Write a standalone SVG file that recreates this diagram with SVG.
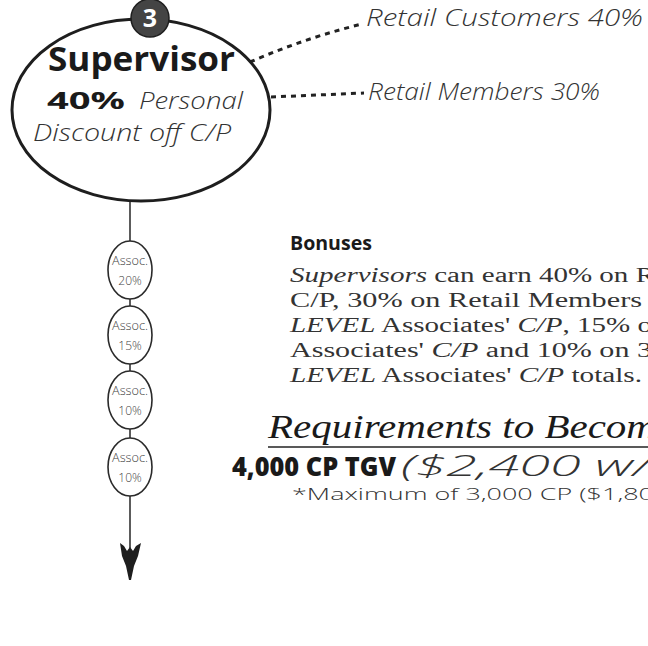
<svg xmlns="http://www.w3.org/2000/svg" width="648" height="646" viewBox="0 0 648 646">
  <defs>
    <style>
      .sans { font-family: "Open Sans", "Liberation Sans", sans-serif; }
      .serif { font-family: "Liberation Serif", "DejaVu Serif", serif; }
      .title { font-weight: 700; font-size: 34px; fill: #1a1a1a; }
      .light-it { font-style: italic; font-weight: 300; fill: #333; }
      .body { font-size: 20px; fill: #333; }
      .assoc-node { fill: #fff; stroke: #2a2a2a; stroke-width: 1.6; }
      .assoc-text { font-family: "Open Sans", "Liberation Sans", sans-serif; font-weight: 300; font-size: 12px; fill: #444; text-anchor: middle; }
      .dash { fill: none; stroke: #222; stroke-width: 3; stroke-dasharray: 5 5; }
      .link { stroke: #333; stroke-width: 1.6; fill: none; }
    </style>
  </defs>

  <rect width="648" height="646" fill="#fff"/>

  <!-- connectors -->
  <g id="connectors">
    <path class="dash" d="M250 62 Q305 38 362 24"/>
    <path class="dash" d="M271 97 L364 93"/>
    <line class="link" x1="130" y1="201" x2="130" y2="242"/>
    <line class="link" x1="130" y1="299" x2="130" y2="307"/>
    <line class="link" x1="130" y1="364" x2="130" y2="371"/>
    <line class="link" x1="130" y1="429" x2="130" y2="438"/>
    <line class="link" x1="130" y1="496" x2="130" y2="548"/>
    <!-- feathered arrowhead -->
    <path d="M120 543 L124 546 L127 551 L130 547 L133 551 L136 546 L141 543 L138 556 L134 566 L131 580 L129 580 L126 566 L122 556 Z" fill="#1e1e1e"/>
  </g>

  <!-- top-level node -->
  <g id="supervisor">
    <ellipse cx="141" cy="110" rx="129" ry="91" fill="#fff" stroke="#1e1e1e" stroke-width="3"/>
    <text class="sans title" x="48" y="71" textLength="187" lengthAdjust="spacingAndGlyphs">Supervisor</text>
    <text class="sans" x="47" y="109" font-size="24" font-weight="700" fill="#1a1a1a" textLength="78" lengthAdjust="spacingAndGlyphs">40%</text>
    <text class="sans light-it" x="139" y="109" font-size="23" textLength="104" lengthAdjust="spacingAndGlyphs">Personal</text>
    <text class="sans light-it" x="33" y="141" font-size="23" textLength="198" lengthAdjust="spacingAndGlyphs">Discount off C/P</text>
  </g>

  <g id="level-badge">
    <circle cx="150" cy="18" r="19" fill="#444" stroke="#1e1e1e" stroke-width="1.5"/>
    <text class="sans" x="150" y="27" text-anchor="middle" font-size="25" font-weight="700" fill="#fff">3</text>
  </g>

  <g id="retail-customers">
    <text class="sans light-it" x="366" y="26" font-size="23" fill="#444" textLength="277" lengthAdjust="spacingAndGlyphs">Retail Customers 40%</text>
  </g>
  <g id="retail-members">
    <text class="sans light-it" x="368" y="100" font-size="23" fill="#444" textLength="232" lengthAdjust="spacingAndGlyphs">Retail Members 30%</text>
  </g>

  <!-- associate chain -->
  <g id="assoc-1">
    <ellipse class="assoc-node" cx="130" cy="270" rx="22" ry="29"/>
    <text class="assoc-text" x="130" y="265" textLength="36" lengthAdjust="spacingAndGlyphs">Assoc.</text>
    <text class="assoc-text" x="130" y="285">20%</text>
  </g>
  <g id="assoc-2">
    <ellipse class="assoc-node" cx="130" cy="335" rx="22" ry="29"/>
    <text class="assoc-text" x="130" y="330" textLength="36" lengthAdjust="spacingAndGlyphs">Assoc.</text>
    <text class="assoc-text" x="130" y="350">15%</text>
  </g>
  <g id="assoc-3">
    <ellipse class="assoc-node" cx="130" cy="400" rx="22" ry="29"/>
    <text class="assoc-text" x="130" y="395" textLength="36" lengthAdjust="spacingAndGlyphs">Assoc.</text>
    <text class="assoc-text" x="130" y="415">10%</text>
  </g>
  <g id="assoc-4">
    <ellipse class="assoc-node" cx="130" cy="467" rx="22" ry="29"/>
    <text class="assoc-text" x="130" y="462" textLength="36" lengthAdjust="spacingAndGlyphs">Assoc.</text>
    <text class="assoc-text" x="130" y="482">10%</text>
  </g>

  <!-- bonus text block -->
  <g id="bonuses">
    <text class="sans" x="290" y="250" font-size="19" font-weight="700" fill="#1a1a1a" textLength="82" lengthAdjust="spacingAndGlyphs">Bonuses</text>
    <text class="serif body" x="290" y="282" textLength="365" lengthAdjust="spacingAndGlyphs"><tspan font-style="italic">Supervisors</tspan> can earn 40% on R</text>
    <text class="serif body" x="290" y="307" textLength="352" lengthAdjust="spacingAndGlyphs">C/P, 30% on Retail Members</text>
    <text class="serif body" x="290" y="332" textLength="362" lengthAdjust="spacingAndGlyphs"><tspan font-style="italic">LEVEL</tspan> Associates' <tspan font-style="italic">C/P</tspan>, 15% o</text>
    <text class="serif body" x="290" y="357" textLength="362" lengthAdjust="spacingAndGlyphs">Associates' <tspan font-style="italic">C/P</tspan> and 10% on 3</text>
    <text class="serif body" x="290" y="382" textLength="352" lengthAdjust="spacingAndGlyphs"><tspan font-style="italic">LEVEL</tspan> Associates' <tspan font-style="italic">C/P</tspan> totals.</text>
  </g>

  <g id="requirements">
    <text class="serif" x="268" y="438" font-size="33" font-style="italic" fill="#1a1a1a" textLength="388" lengthAdjust="spacingAndGlyphs">Requirements to Becom</text>
    <line x1="268" y1="447" x2="648" y2="447" stroke="#222" stroke-width="1.5"/>
    <text class="sans" x="232" y="476" font-size="27" font-weight="800" fill="#1a1a1a" textLength="164" lengthAdjust="spacingAndGlyphs">4,000 CP TGV</text>
    <text class="sans light-it" x="401" y="476" font-size="30" textLength="250" lengthAdjust="spacingAndGlyphs">($2,400 w/</text>
    <text class="sans" x="292" y="500" font-size="17" font-weight="300" fill="#333" textLength="362" lengthAdjust="spacingAndGlyphs">*Maximum of 3,000 CP ($1,80</text>
  </g>
</svg>
